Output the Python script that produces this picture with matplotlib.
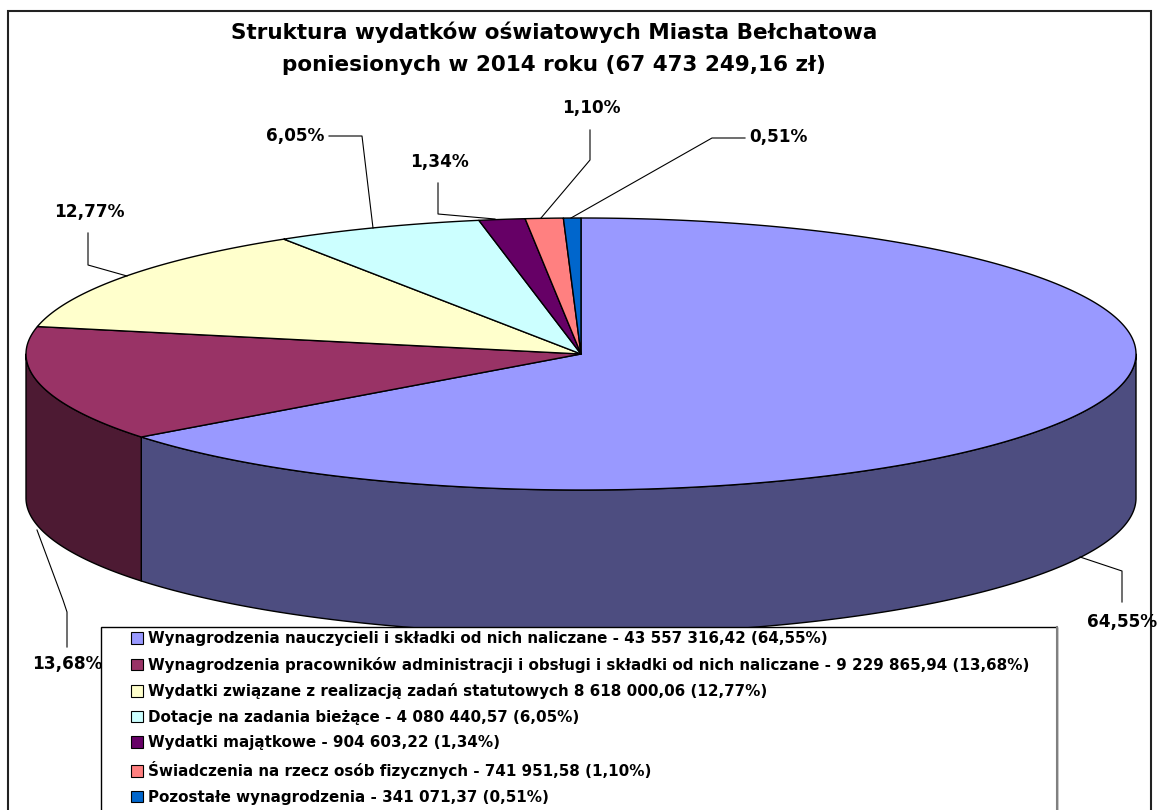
import numpy as np
import matplotlib
matplotlib.use("Agg")
import matplotlib.pyplot as plt
from matplotlib.patches import Rectangle, Patch

plt.rcParams['font.family'] = ['DejaVu Sans']

title = "Struktura wydatków oświatowych Miasta Bełchatowa\nponiesionych w 2014 roku (67 473 249,16 zł)"
amounts = [43557316.42, 9229865.94, 8618000.06, 4080440.57, 904603.22, 741951.58, 341071.37]
pct_labels = ["64,55%", "13,68%", "12,77%", "6,05%", "1,34%", "1,10%", "0,51%"]
legend_labels = [
    "Wynagrodzenia nauczycieli i składki od nich naliczane - 43 557 316,42 (64,55%)",
    "Wynagrodzenia pracowników administracji i obsługi i składki od nich naliczane - 9 229 865,94 (13,68%)",
    "Wydatki związane z realizacją zadań statutowych 8 618 000,06 (12,77%)",
    "Dotacje na zadania bieżące - 4 080 440,57 (6,05%)",
    "Wydatki majątkowe - 904 603,22 (1,34%)",
    "Świadczenia na rzecz osób fizycznych - 741 951,58 (1,10%)",
    "Pozostałe wynagrodzenia - 341 071,37 (0,51%)",
]
top_colors = ["#9999FF", "#993366", "#FFFFCC", "#CCFFFF", "#660066", "#FF8080", "#0066CC"]
side_colors = ["#4D4D80", "#4D1A33", "#808066", "#668080", "#330033", "#804040", "#003366"]

CX, CY, RX, RY, DEPTH = 581, 354, 555, 136, 144

fig = plt.figure(figsize=(11.62, 8.10), dpi=100, facecolor="white")
ax = fig.add_axes([0, 0, 1, 1])
ax.set_xlim(0, 1162)
ax.set_ylim(810, 0)
ax.axis("off")

ax.add_patch(Rectangle((8, 11), 1143, 820, fc="white", ec="#222222", lw=1.5, zorder=0))


def rim(t):
    return CX + RX * np.sin(t), CY - RY * np.cos(t)


edges = np.concatenate([[0], np.cumsum(amounts)]) / np.sum(amounts) * 2 * np.pi

# front walls
for i in range(len(amounts)):
    a, b = max(edges[i], np.pi / 2), min(edges[i + 1], 3 * np.pi / 2)
    if a >= b:
        continue
    t = np.linspace(a, b, 300)
    x, y = rim(t)
    ax.fill(np.r_[x, x[::-1]], np.r_[y, y[::-1] + DEPTH],
            fc=side_colors[i], ec="black", lw=1.0, zorder=2, joinstyle="round")

# top face
for i in range(len(amounts)):
    t = np.linspace(edges[i], edges[i + 1], 400)
    x, y = rim(t)
    ax.fill(np.r_[CX, x], np.r_[CY, y], fc=top_colors[i], ec="black", lw=1.0,
            zorder=3, joinstyle="round")

# leader lines and percentage labels
leaders = [
    [(1122, 602), (1122, 571), (1080, 557)],
    [(67, 647), (67, 612), (63, 600), (37, 530)],
    [(88, 233), (88, 265), (127, 276)],
    [(329, 136), (362, 136), (373, 228)],
    [(438, 183), (438, 214), (495, 219)],
    [(590, 130), (590, 160), (541, 218)],
    [(745, 138), (712, 138), (571, 218)],
]
label_pos = [(1122, 622), (67, 664), (89, 212), (295, 136), (439, 162), (591, 108), (778, 137)]
for pts, lab, pos in zip(leaders, pct_labels, label_pos):
    xs, ys = zip(*pts)
    ax.plot(xs, ys, color="black", lw=0.8, zorder=4)
    ax.text(pos[0], pos[1], lab, ha="center", va="center", fontsize=12.2,
            fontweight="bold", color="black", zorder=4)

ax.text(554, 48, title, ha="center", va="center", fontsize=15.5, fontweight="bold",
        linespacing=1.75, color="black", zorder=4)

# legend
ax.add_patch(Rectangle((101, 627), 956, 200, fc="white", ec="black", lw=1.0, zorder=5))
ax.plot([1057, 1057], [627, 810], color="#808080", lw=1.5, zorder=5)
handles = [Patch(fc=c, ec="black", lw=0.8) for c in top_colors]
leg = ax.legend(handles, legend_labels, frameon=False, loc="upper left",
                bbox_to_anchor=(131 / 1162, 1 - 631 / 810), bbox_transform=ax.transAxes,
                borderaxespad=0, borderpad=0,
                prop={"weight": "bold", "size": 10.9}, labelspacing=0.70,
                handlelength=0.8, handleheight=0.8, handletextpad=0.3)
leg.set_zorder(6)

fig.savefig("out.png", dpi=100)
